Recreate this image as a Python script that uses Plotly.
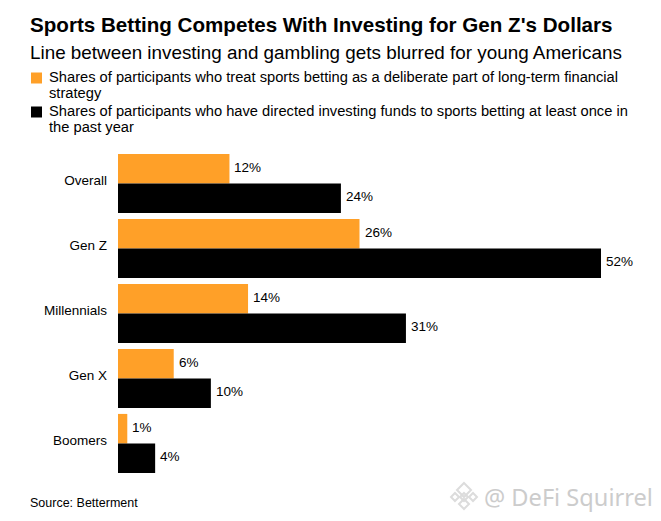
import plotly.graph_objects as go

categories = ["Overall", "Gen Z", "Millennials", "Gen X", "Boomers"]
deliberate = [12, 26, 14, 6, 1]
directed = [24, 52, 31, 10, 4]
title = "Sports Betting Competes With Investing for Gen Z's Dollars"
subtitle = "Line between investing and gambling gets blurred for young Americans"
legend_a = ["Shares of participants who treat sports betting as a deliberate part of long-term financial", "strategy"]
legend_b = ["Shares of participants who have directed investing funds to sports betting at least once in", "the past year"]
source = "Source: Betterment"
watermark = "@ DeFi Squirrel"
FONT = "Liberation Sans"
ORANGE = "#ffa028"
BLACK = "#000000"
W, H = 653, 513
L, R, T, B = 110, 0, 143, 45
PW, PH = W - L - R, H - T - B

def px(x):
    return (x - 8 - L) / PW
def py(y):
    return (H - B - (y - 8)) / PH

fig = go.Figure()
fig.add_bar(y=categories, x=deliberate, orientation="h", marker_color=ORANGE, marker_line_width=0, name="a")
fig.add_bar(y=categories, x=directed, orientation="h", marker_color=BLACK, marker_line_width=0, name="b")
fig.update_layout(
    width=W, height=H, autosize=False, showlegend=False, barmode="group",
    bargap=0.09, bargroupgap=0.0, paper_bgcolor="white", plot_bgcolor="white",
    margin=dict(l=L, r=R, t=T, b=B, pad=0),
    font=dict(family=FONT, color="#000"),
    xaxis=dict(range=[0, 58.46], visible=False, fixedrange=True),
    yaxis=dict(autorange="reversed", showline=False, ticks="", showgrid=False, zeroline=False,
               tickfont=dict(family=FONT, size=13.5, color="#000"), ticklabelstandoff=10,
               ticklabelshift=3),
)

for cat, a, b in zip(categories, deliberate, directed):
    for val, shift in ((a, 16), (b, -13)):
        fig.add_annotation(xref="x", yref="y", x=val, y=cat, text=f"{val}%", showarrow=False,
                           xanchor="left", yanchor="middle", xshift=3, yshift=shift,
                           font=dict(family=FONT, size=13.5, color="#000"))

def txt(x, y, t, size, bold=False, color="#000", family=FONT):
    fig.add_annotation(xref="paper", yref="paper", x=px(x - 2), y=py(y),
                       text=f"<b>{t}</b>" if bold else t, showarrow=False, xanchor="left", yanchor="middle",
                       font=dict(family=family, size=size, color=color))

txt(30, 24, title, 20.6, True)
txt(30, 52, subtitle, 18.85)
txt(49, 77, legend_a[0], 14.7)
txt(49, 93, legend_a[1], 14.7)
txt(49, 111, legend_b[0], 14.7)
txt(49, 127, legend_b[1], 14.7)
txt(30, 503, source, 12.5)
txt(484, 497, watermark, 23.6, False, "#cccccc", "Noto Sans")

def key(y, c):
    fig.add_shape(type="rect", xref="paper", yref="paper", x0=px(31), x1=px(42),
                  y0=py(y + 5.5), y1=py(y - 5.5), fillcolor=c, line_width=0)
key(78, ORANGE)
key(112, BLACK)

def diamond(cx, cy, r, color="#dcdcdc"):
    pts = [(cx, cy - r), (cx + r, cy), (cx, cy + r), (cx - r, cy)]
    path = "M " + " L ".join(f"{px(a):.4f},{py(b):.4f}" for a, b in pts) + " Z"
    fig.add_shape(type="path", xref="paper", yref="paper", path=path,
                  fillcolor="rgba(0,0,0,0)", line=dict(color=color, width=2))

for cx, cy, r in [(464, 490, 7), (464, 504, 5), (455, 497, 4), (473, 497, 4), (464, 497, 4)]:
    diamond(cx, cy, r)

fig.write_html("out.html")
